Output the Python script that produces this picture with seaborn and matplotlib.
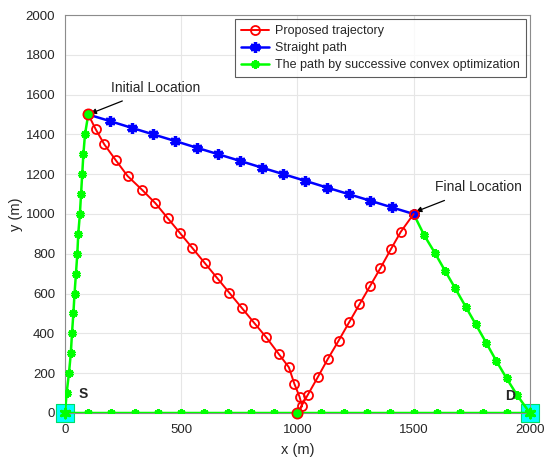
import matplotlib
matplotlib.use("Agg")
import matplotlib.pyplot as plt
import seaborn as sns

# proposed trajectory (red)
prop_x = [100, 132, 169, 218, 269, 332, 389, 442, 495, 548, 601, 654, 707, 760, 813, 866,
          920, 963, 987, 1009, 1020, 1000, 1044, 1087, 1130, 1177, 1222, 1267, 1312, 1357,
          1402, 1445, 1500]
prop_y = [1500, 1426, 1350, 1271, 1191, 1121, 1054, 979, 904, 829, 754, 679, 604, 529, 454, 380,
          296, 230, 146, 82, 35, 0, 90, 179, 270, 363, 455, 546, 637, 728,
          823, 911, 1000]

# straight path (blue)
straight_x = [100, 193, 287, 380, 473, 567, 660, 753, 847, 940, 1033, 1127, 1220, 1313, 1407, 1500]
straight_y = [1500, 1467, 1433, 1400, 1367, 1333, 1300, 1267, 1233, 1200, 1167, 1133, 1100, 1067, 1033, 1000]

# successive convex optimization path (green)
sca_x = [100, 86, 79, 74, 69, 64, 57, 53, 47, 41, 36, 30, 25, 17, 7, 0,
         100, 200, 300, 400, 500, 600, 700, 800, 900, 1000, 1100, 1200, 1300, 1400, 1500,
         1600, 1700, 1800, 1900, 2000,
         1945, 1900, 1855, 1812, 1767, 1724, 1678, 1635, 1591, 1545, 1500]
sca_y = [1500, 1400, 1300, 1200, 1100, 1000, 900, 800, 700, 600, 500, 400, 300, 200, 100, 0,
         0, 0, 0, 0, 0, 0, 0, 0, 0, 0, 0, 0, 0, 0, 0,
         0, 0, 0, 0, 0,
         90, 174, 263, 353, 446, 534, 628, 715, 805, 894, 1000]

# source / destination and visited nodes
sd_x = [0, 2000]
sd_y = [0, 0]
node_x = [100, 1000]
node_y = [1500, 0]

sns.set_style("whitegrid")
plt.rcParams['font.family'] = ['Liberation Sans', 'DejaVu Sans']

fig = plt.figure(figsize=(5.44, 4.63), dpi=100)
ax = fig.add_axes([0.1195, 0.108, 0.8545, 0.8596])

star = (6, 2, 0)

sns.lineplot(x=sca_x, y=sca_y, sort=False, estimator=None, ax=ax, color='#00ff00',
             lw=1.8, marker=star, markersize=6, markeredgewidth=2.2,
             markeredgecolor='#00ff00', label='The path by successive convex optimization',
             zorder=3)
sns.lineplot(x=straight_x, y=straight_y, sort=False, estimator=None, ax=ax, color='#0000ff',
             lw=1.8, marker=star, markersize=7.5, markeredgewidth=2.4,
             markeredgecolor='#0000ff', label='Straight path', zorder=3)
sns.lineplot(x=prop_x, y=prop_y, sort=False, estimator=None, ax=ax, color='#ff0000',
             lw=1.4, marker='o', markersize=6.5, markerfacecolor='none',
             markeredgecolor='#ff0000', markeredgewidth=1.3, label='Proposed trajectory',
             zorder=4)

ax.scatter(node_x, node_y, s=55, color='#00ff00', edgecolor='#ff0000', linewidth=1.2,
           zorder=5, clip_on=False)
ax.scatter(sd_x, sd_y, s=150, marker='s', color='#00ffff', edgecolor='#00dd66', linewidth=0.8,
           zorder=2, clip_on=False)
ax.scatter(sd_x, sd_y, s=40, marker=star, color='#00ff00', linewidth=2.2,
           zorder=3, clip_on=False)

ax.text(60, 95, 'S', fontsize=10, fontweight='bold', va='center')
ax.text(1895, 85, 'D', fontsize=10, fontweight='bold', va='center')

ax.annotate('Initial Location', xy=(110, 1505), xytext=(200, 1635), fontsize=10,
            va='center', ha='left',
            arrowprops=dict(arrowstyle='-|>', color='k', lw=0.9, mutation_scale=8,
                            shrinkA=6, shrinkB=0))
ax.annotate('Final Location', xy=(1510, 1012), xytext=(1592, 1135), fontsize=10,
            va='center', ha='left',
            arrowprops=dict(arrowstyle='-|>', color='k', lw=0.9, mutation_scale=8,
                            shrinkA=6, shrinkB=0))

ax.set_xlim(0, 2000)
ax.set_ylim(0, 2000)
ax.set_xticks([0, 500, 1000, 1500, 2000])
ax.set_yticks(range(0, 2001, 200))
ax.tick_params(labelsize=9.5, colors='#262626', length=0)
ax.tick_params(axis='x', pad=8)
ax.tick_params(axis='y', pad=7)
ax.set_xlabel('x (m)', fontsize=10.5)
ax.set_ylabel('y (m)', fontsize=10.5)
ax.xaxis.set_label_coords(0.5, -0.075)
ax.yaxis.set_label_coords(-0.09, 0.5)
ax.grid(True, color='#e6e6e6', lw=0.8)
for s in ax.spines.values():
    s.set_color('#8c8c8c')
    s.set_linewidth(0.8)

handles, labels = ax.get_legend_handles_labels()
order = [2, 1, 0]
leg = ax.legend([handles[i] for i in order], [labels[i] for i in order], loc='upper right',
                fontsize=9, frameon=True, fancybox=False, edgecolor='#333333',
                borderaxespad=0.3, handlelength=2.2, labelspacing=0.4, borderpad=0.5,
                handletextpad=0.5)
leg.get_frame().set_linewidth(0.8)

fig.savefig('out.png', dpi=100)
